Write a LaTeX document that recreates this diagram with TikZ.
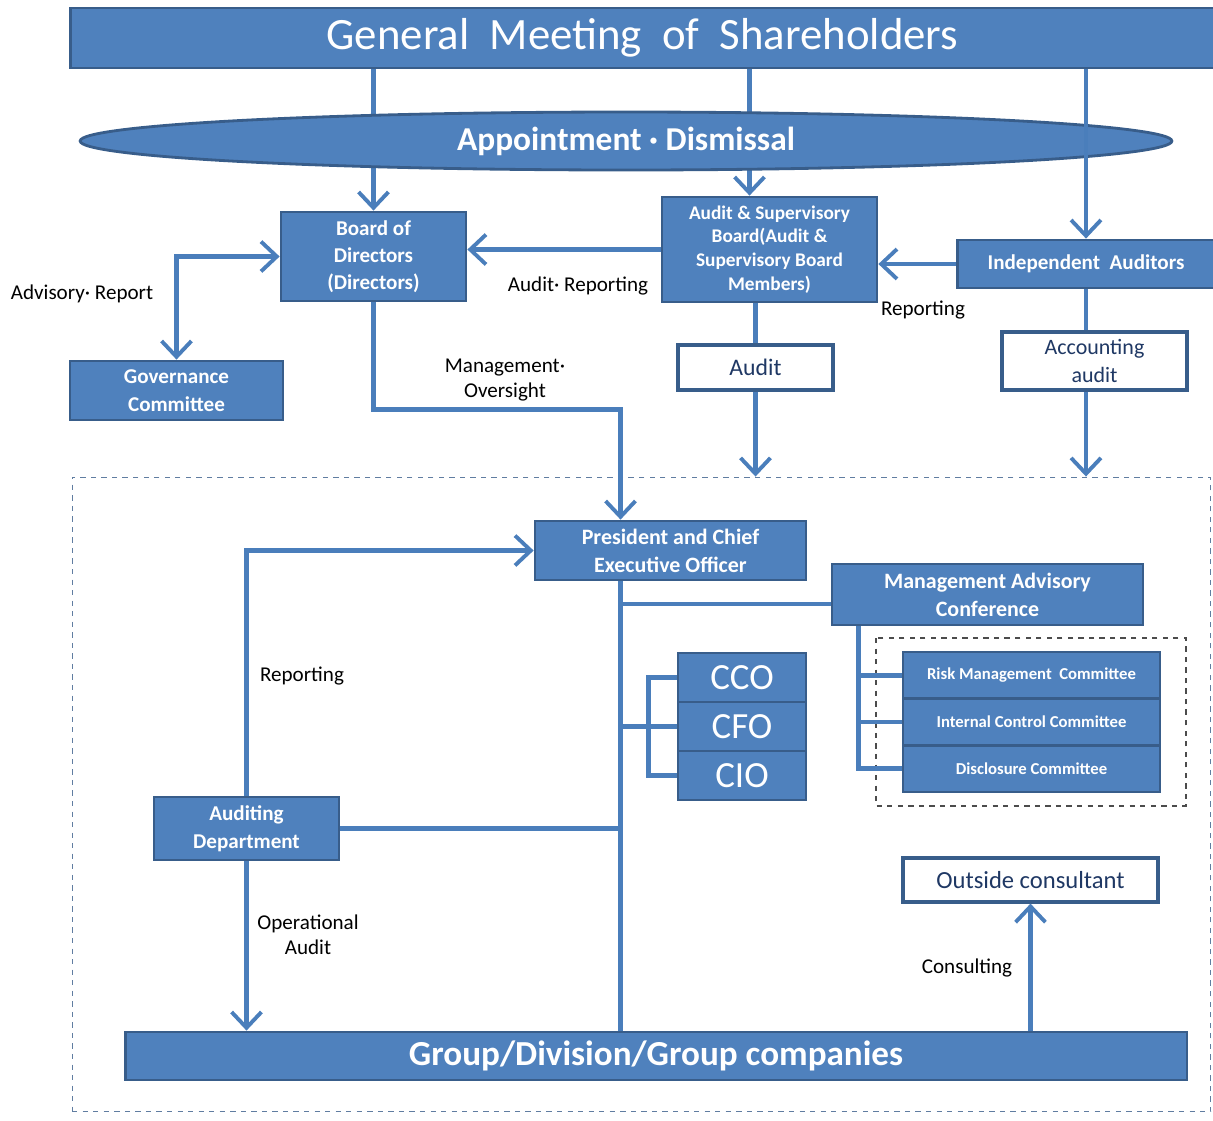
\documentclass[tikz,border=0pt]{standalone}
\usepackage{fontspec}
\setmainfont{Carlito}
\usetikzlibrary{arrows.meta,backgrounds,shapes.geometric}
\definecolor{boxblue}{HTML}{4F81BD}
\definecolor{edgeblue}{HTML}{385D8A}
\definecolor{lineblue}{HTML}{4A7EBB}
\definecolor{navy}{HTML}{1F3864}

\begin{document}
\begin{tikzpicture}[x=0.02cm,y=-0.02cm,
  box/.style={draw=edgeblue,fill=boxblue,line width=1.6pt,text=white,align=center,inner sep=0pt,font=\bfseries\fontsize{12}{15.5}\selectfont},
  wbox/.style={draw=edgeblue,fill=white,line width=1.8pt,text=navy,align=center,inner sep=0pt,font=\fontsize{12.5}{15.5}\selectfont},
  cxo/.style={box,minimum width=2.56cm,minimum height=0.98cm,font=\fontsize{21}{24}\selectfont},
  cmt/.style={box,minimum width=5.14cm,minimum height=0.933cm,font=\bfseries\fontsize{9.5}{11}\selectfont},
  conn/.style={draw=lineblue,line width=2.6pt},
  arr/.style={-{Straight Barb[length=9pt,width=17pt,line width=2.2pt]}},
  dbl/.style={{Straight Barb[length=9pt,width=17pt,line width=2.2pt]}-{Straight Barb[length=9pt,width=17pt,line width=2.2pt]}},
  lbl/.style={align=center,font=\fontsize{12}{14}\selectfont}]
\useasboundingbox (0,0) rectangle (1213,1120);

\node[draw=edgeblue!80,dashed,line width=0.6pt,minimum width=22.78cm,minimum height=12.7cm] (inner) at (641.5,794.5) {};
\draw[draw=black!70,dashed,line width=0.6pt] (876,638) rectangle (1186,806);

\node[box,minimum width=22.9cm,minimum height=1.2cm,font=\fontsize{25.5}{28}\selectfont] (gms) at (642.5,38) {General\ \ Meeting\ \ of\ \ Shareholders};
\node[box,ellipse,minimum width=21.84cm,minimum height=1.16cm,font=\bfseries\fontsize{19}{22}\selectfont] (appt) at (626,141) {Appointment · Dismissal};

\node[box,minimum width=3.7cm,minimum height=1.78cm] (bod) at (373.5,256.5) {Board of\\Directors\\(Directors)};
\node[box,minimum width=4.3cm,minimum height=2.1cm,font=\bfseries\fontsize{11}{13.5}\selectfont] (asb) at (769.5,249.5) {Audit \& Supervisory\\Board(Audit \&\\Supervisory Board\\Members)};
\node[box,minimum width=5.14cm,minimum height=0.96cm,font=\bfseries\fontsize{12}{14}\selectfont] (ia) at (1086,264) {Independent\ \ Auditors};
\node[box,minimum width=4.26cm,minimum height=1.18cm,font=\bfseries\fontsize{12}{16}\selectfont] (gov) at (176.5,390.5) {Governance\\Committee};
\node[wbox,minimum width=3.1cm,minimum height=0.9cm,font=\fontsize{13.5}{16}\selectfont] (audit) at (755.5,367.5) {Audit};
\node[wbox,minimum width=3.7cm,minimum height=1.16cm] (acct) at (1094.5,361) {Accounting\\audit};

\node[box,minimum width=5.42cm,minimum height=1.18cm,font=\bfseries\fontsize{12.5}{16}\selectfont] (pres) at (670.5,550.5) {President and Chief\\Executive Officer};
\node[box,minimum width=6.22cm,minimum height=1.22cm,font=\bfseries\fontsize{12.5}{16}\selectfont] (mac) at (987.5,594.5) {Management Advisory\\Conference};
\node[cxo] (cco) at (742,677.5) {CCO};
\node[cxo] (cfo) at (742,726.5) {CFO};
\node[cxo] (cio) at (742,775.5) {CIO};
\node[cmt] (risk) at (1031.5,675.3) {Risk Management\ \ Committee};
\node[cmt] (intc) at (1031.5,722) {Internal Control Committee};
\node[cmt] (disc) at (1031.5,768.7) {Disclosure Committee};
\node[box,minimum width=3.7cm,minimum height=1.26cm,font=\bfseries\fontsize{12}{16}\selectfont] (adep) at (246.5,828.5) {Auditing\\Department};
\node[wbox,minimum width=5.1cm,minimum height=0.88cm,font=\fontsize{14}{16}\selectfont] (outc) at (1030.5,880) {Outside consultant};
\node[box,minimum width=21.24cm,minimum height=0.96cm,font=\bfseries\fontsize{20}{24}\selectfont] (grp) at (656,1056) {Group/Division/Group companies};

\coordinate (asbin) at ([xshift=-0.4cm]asb.north);
\coordinate (pin) at ([xshift=-1cm]pres.north);
\coordinate (trk) at ([xshift=-1cm]pres.south);
\coordinate (macin) at ([yshift=-0.19cm]mac.west);
\coordinate (mb) at ([xshift=0.56cm]mac.south west);

\begin{scope}[on background layer]
\draw[conn,arr] (bod.north |- gms.south) -- (bod.north);
\draw[conn,arr] (asbin |- gms.south) -- (asbin);
\end{scope}
\draw[conn,arr] (ia.north |- gms.south) -- (ia.north);

\draw[conn,arr] (asb.west) -- (asb.west -| bod.east);
\draw[conn,arr] (ia.west) -- (ia.west -| asb.east);
\draw[conn,dbl] (bod.west) -| (gov.north);
\draw[conn,arr] (bod.south) -- ++(0,107) -| (pin);
\draw[conn] (audit.north |- asb.south) -- (audit.north);
\draw[conn,arr] (audit.south) -- (audit.south |- inner.north);
\draw[conn] (ia.south) -- (ia.south |- acct.north);
\draw[conn,arr] (ia.south |- acct.south) -- (ia.south |- inner.north);

\draw[conn] (trk) -- (trk |- grp.north);
\draw[conn] (macin) -- (macin -| trk);
\draw[conn] (cco.west) -- ++(-28,0) |- (cio.west);
\draw[conn] (cfo.west) -- (cfo.west -| trk);
\draw[conn] (mb) |- (disc.west);
\draw[conn] (risk.west) -- (risk.west -| mb);
\draw[conn] (intc.west) -- (intc.west -| mb);
\draw[conn] (adep.east) -- (adep.east -| trk);
\draw[conn,arr] (adep.north) |- (pres.west);
\draw[conn,arr] (adep.south) -- (adep.south |- grp.north);
\draw[conn,arr] (outc.south |- grp.north) -- (outc.south);

\node[lbl] (lar) at (82,294) {Advisory· Report};
\node[lbl] (lmr) at (578,286) {Audit· Reporting};
\node[lbl] (lrp) at (923,310) {Reporting};
\node[lbl] (lmo) at (505,380) {Management·\\Oversight};
\node[lbl] (lrep) at (302,676) {Reporting};
\node[lbl] (lop) at (308,935) {Operational\\Audit};
\node[lbl] (lcon) at (967,968) {Consulting};
\end{tikzpicture}
\end{document}
